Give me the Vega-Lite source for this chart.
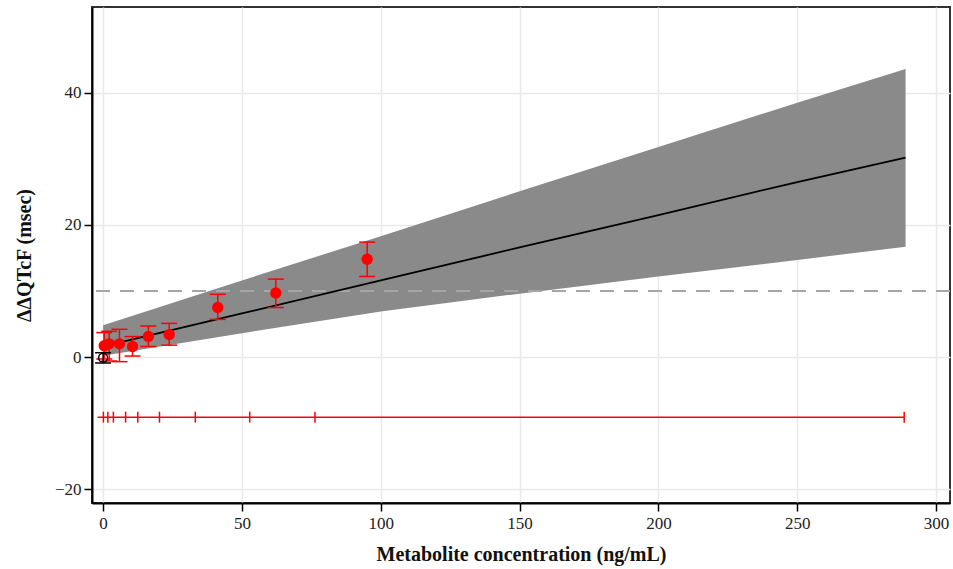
{
  "$schema": "https://vega.github.io/schema/vega-lite/v6.json",
  "width": 858,
  "height": 496,
  "autosize": "none",
  "padding": {"left": 92, "top": 7, "right": 3, "bottom": 66},
  "background": "white",
  "config": {
    "view": {"stroke": "#333333", "strokeWidth": 2},
    "axis": {
      "labelFont": "Liberation Serif",
      "titleFont": "Liberation Serif",
      "labelFontSize": 17,
      "titleFontSize": 20,
      "titleFontWeight": "bold",
      "labelColor": "#222222",
      "titleColor": "#111111",
      "domainColor": "#000000",
      "domainWidth": 2,
      "tickColor": "#000000",
      "tickWidth": 1.5,
      "tickSize": 8,
      "gridColor": "#e9e9e9",
      "gridWidth": 1.5
    }
  },
  "datasets": {
    "fit": [
      {"x": 0, "fit": 1.6, "lo": 0.2, "hi": 4.8},
      {"x": 50, "fit": 6.6, "lo": 3.6, "hi": 11.6},
      {"x": 100, "fit": 11.6, "lo": 6.9, "hi": 18.3},
      {"x": 150, "fit": 16.6, "lo": 9.6, "hi": 25.1},
      {"x": 200, "fit": 21.5, "lo": 12.2, "hi": 31.8},
      {"x": 250, "fit": 26.5, "lo": 14.7, "hi": 38.5},
      {"x": 289, "fit": 30.2, "lo": 16.7, "hi": 43.6}
    ],
    "bins": [
      {"x": 0.4, "y": 1.7, "lo": -0.3, "hi": 3.7, "grp": "active"},
      {"x": 2.2, "y": 2.0, "lo": -0.6, "hi": 3.9, "grp": "active"},
      {"x": 5.9, "y": 2.0, "lo": -0.7, "hi": 4.2, "grp": "active"},
      {"x": 10.6, "y": 1.6, "lo": 0.15, "hi": 3.1, "grp": "active"},
      {"x": 16.3, "y": 3.1, "lo": 1.6, "hi": 4.7, "grp": "active"},
      {"x": 23.8, "y": 3.4, "lo": 1.8, "hi": 5.1, "grp": "active"},
      {"x": 41.3, "y": 7.5, "lo": 5.7, "hi": 9.5, "grp": "active"},
      {"x": 62.2, "y": 9.7, "lo": 7.5, "hi": 11.8, "grp": "active"},
      {"x": 95.1, "y": 14.8, "lo": 12.2, "hi": 17.4, "grp": "active"}
    ],
    "placebo": [
      {"x": 0, "y": -0.1, "lo": -0.9, "hi": 0.65}
    ],
    "rug": [
      {"x": 0.1}, {"x": 1.7}, {"x": 3.7}, {"x": 8.1}, {"x": 12.5},
      {"x": 20.3}, {"x": 33.2}, {"x": 52.8}, {"x": 76.3}, {"x": 288.5}
    ],
    "rugline": [{"x0": -2, "x1": 288.5}]
  },
  "layer": [
    {
      "data": {"name": "fit"},
      "mark": {"type": "area", "color": "#8a8a8a", "opacity": 1},
      "encoding": {
        "x": {"field": "x", "type": "quantitative",
              "scale": {"domain": [-4, 305], "nice": false, "zero": false},
              "axis": {"values": [0, 50, 100, 150, 200, 250, 300], "title": "Metabolite concentration (ng/mL)", "labelPadding": 4, "titlePadding": 13}},
        "y": {"field": "lo", "type": "quantitative",
              "scale": {"domain": [-22.1, 53], "nice": false, "zero": false},
              "axis": {"values": [-20, 0, 20, 40], "title": "ΔΔQTcF (msec)", "labelPadding": 3, "titlePadding": 20}},
        "y2": {"field": "hi"}
      }
    },
    {
      "data": {"values": [{}]},
      "mark": {"type": "rule", "color": "#a6a6a6", "strokeWidth": 2, "strokeDash": [14, 10]},
      "encoding": {"y": {"datum": 10, "type": "quantitative"}}
    },
    {
      "data": {"name": "fit"},
      "mark": {"type": "line", "color": "#000000", "strokeWidth": 1.8},
      "encoding": {
        "x": {"field": "x", "type": "quantitative"},
        "y": {"field": "fit", "type": "quantitative"}
      }
    },
    {
      "data": {"name": "rugline"},
      "mark": {"type": "rule", "color": "#ff0000", "strokeWidth": 1.5},
      "encoding": {
        "x": {"field": "x0", "type": "quantitative"},
        "x2": {"field": "x1"},
        "y": {"datum": -9.1, "type": "quantitative"}
      }
    },
    {
      "data": {"name": "rug"},
      "mark": {"type": "tick", "color": "#ff0000", "orient": "vertical", "size": 11, "thickness": 1.5, "opacity": 1},
      "encoding": {
        "x": {"field": "x", "type": "quantitative"},
        "y": {"datum": -9.1, "type": "quantitative"}
      }
    },
    {
      "data": {"name": "bins"},
      "mark": {"type": "rule", "color": "#ff0000", "strokeWidth": 1.5},
      "encoding": {
        "x": {"field": "x", "type": "quantitative"},
        "y": {"field": "lo", "type": "quantitative"},
        "y2": {"field": "hi"}
      }
    },
    {
      "data": {"name": "bins"},
      "mark": {"type": "tick", "color": "#ff0000", "orient": "horizontal", "size": 16, "thickness": 1.5, "opacity": 1},
      "encoding": {
        "x": {"field": "x", "type": "quantitative"},
        "y": {"field": "lo", "type": "quantitative"}
      }
    },
    {
      "data": {"name": "bins"},
      "mark": {"type": "tick", "color": "#ff0000", "orient": "horizontal", "size": 16, "thickness": 1.5, "opacity": 1},
      "encoding": {
        "x": {"field": "x", "type": "quantitative"},
        "y": {"field": "hi", "type": "quantitative"}
      }
    },
    {
      "data": {"name": "bins"},
      "mark": {"type": "circle", "color": "#ff0000", "size": 130, "opacity": 1},
      "encoding": {
        "x": {"field": "x", "type": "quantitative"},
        "y": {"field": "y", "type": "quantitative"}
      }
    },
    {
      "data": {"name": "placebo"},
      "mark": {"type": "rule", "color": "#000000", "strokeWidth": 1.5},
      "encoding": {
        "x": {"field": "x", "type": "quantitative"},
        "y": {"field": "lo", "type": "quantitative"},
        "y2": {"field": "hi"}
      }
    },
    {
      "data": {"name": "placebo"},
      "mark": {"type": "tick", "color": "#000000", "orient": "horizontal", "size": 16, "thickness": 1.5, "opacity": 1},
      "encoding": {
        "x": {"field": "x", "type": "quantitative"},
        "y": {"field": "lo", "type": "quantitative"}
      }
    },
    {
      "data": {"name": "placebo"},
      "mark": {"type": "tick", "color": "#000000", "orient": "horizontal", "size": 16, "thickness": 1.5, "opacity": 1},
      "encoding": {
        "x": {"field": "x", "type": "quantitative"},
        "y": {"field": "hi", "type": "quantitative"}
      }
    },
    {
      "data": {"name": "placebo"},
      "mark": {"type": "point", "shape": "circle", "filled": false, "color": "#000000", "strokeWidth": 1.5, "size": 80, "opacity": 1},
      "encoding": {
        "x": {"field": "x", "type": "quantitative"},
        "y": {"field": "y", "type": "quantitative"}
      }
    }
  ]
}
